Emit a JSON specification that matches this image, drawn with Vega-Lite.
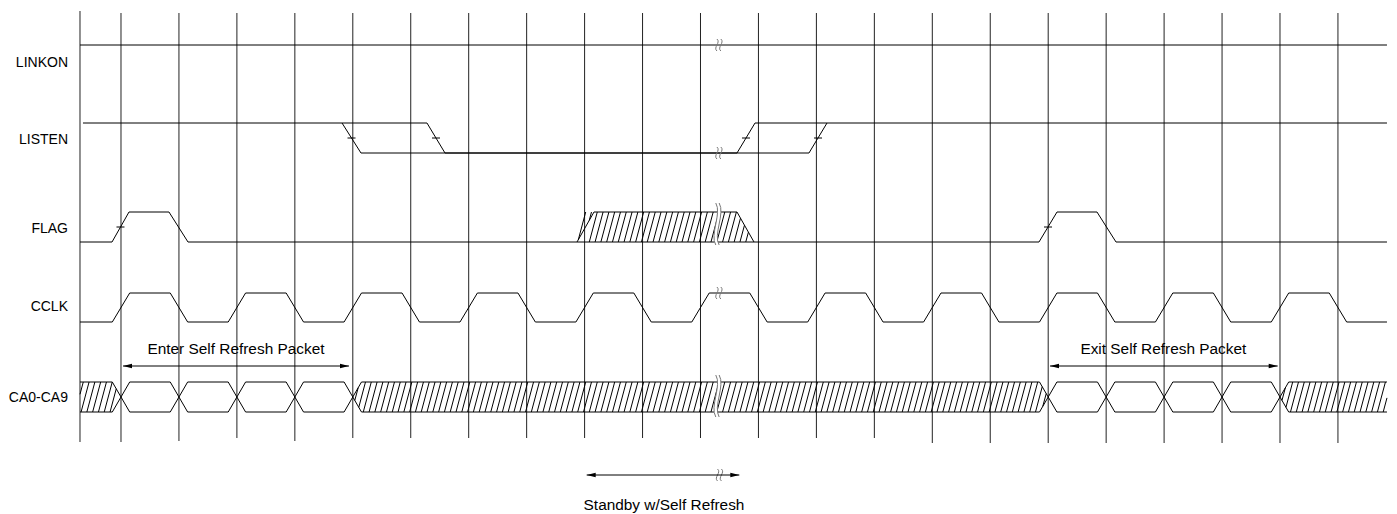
{
"$schema":"https://vega.github.io/schema/vega-lite/v6.json",
"width":1397,"height":514,"padding":0,
"autosize":{"type":"fit","contains":"padding"},
"background":"white",
"config":{"view":{"stroke":null}},
"datasets":{
"grid":[{"t":-0.7075,"y":11,"y2":442},{"t":0,"y":13,"y2":442},{"t":1,"y":13,"y2":441},{"t":2,"y":13,"y2":438},{"t":3,"y":13,"y2":441},{"t":4,"y":13,"y2":438},{"t":5,"y":13,"y2":438},{"t":6,"y":13,"y2":438},{"t":7,"y":13,"y2":438},{"t":8,"y":13,"y2":438},{"t":9,"y":13,"y2":438},{"t":10,"y":13,"y2":438},{"t":11,"y":13,"y2":438},{"t":12,"y":13,"y2":438},{"t":13,"y":13,"y2":438},{"t":14,"y":13,"y2":443},{"t":15,"y":13,"y2":443},{"t":16,"y":13,"y2":443},{"t":17,"y":13,"y2":443},{"t":18,"y":13,"y2":443},{"t":19,"y":13,"y2":443},{"t":20,"y":13,"y2":443},{"t":21,"y":13,"y2":443}],
"wave":[
{"s":"LINKON","t":-0.7075,"y":45},{"s":"LINKON","t":21.846,"y":45},
{"s":"LISTEN_A","t":-0.656,"y":123},{"s":"LISTEN_A","t":3.814,"y":123},{"s":"LISTEN_A","t":4.141,"y":153},{"s":"LISTEN_A","t":11.872,"y":153},{"s":"LISTEN_A","t":12.183,"y":123},{"s":"LISTEN_A","t":21.846,"y":123},
{"s":"LISTEN_B","t":3.814,"y":123},{"s":"LISTEN_B","t":5.28,"y":123},{"s":"LISTEN_B","t":5.591,"y":153},{"s":"LISTEN_B","t":10.63,"y":153},{"s":"LISTEN_B","t":10.941,"y":123},{"s":"LISTEN_B","t":12.183,"y":123},
{"s":"FLAG","t":-0.7075,"y":242},{"s":"FLAG","t":-0.155,"y":242},{"s":"FLAG","t":0.138,"y":212},{"s":"FLAG","t":0.828,"y":212},{"s":"FLAG","t":1.156,"y":242},{"s":"FLAG","t":15.841,"y":242},{"s":"FLAG","t":16.152,"y":212},{"s":"FLAG","t":16.842,"y":212},{"s":"FLAG","t":17.17,"y":242},{"s":"FLAG","t":21.846,"y":242},
{"s":"FLAG_H","t":7.869,"y":242},{"s":"FLAG_H","t":8.162,"y":212},{"s":"FLAG_H","t":10.63,"y":212},{"s":"FLAG_H","t":10.923,"y":242},
{"s":"CCLK","t":-0.7075,"y":322},{"s":"CCLK","t":-0.15,"y":322},{"s":"CCLK","t":0.15,"y":293},{"s":"CCLK","t":0.85,"y":293},{"s":"CCLK","t":1.15,"y":322},{"s":"CCLK","t":1.85,"y":322},{"s":"CCLK","t":2.15,"y":293},{"s":"CCLK","t":2.85,"y":293},{"s":"CCLK","t":3.15,"y":322},{"s":"CCLK","t":3.85,"y":322},{"s":"CCLK","t":4.15,"y":293},{"s":"CCLK","t":4.85,"y":293},{"s":"CCLK","t":5.15,"y":322},{"s":"CCLK","t":5.85,"y":322},{"s":"CCLK","t":6.15,"y":293},{"s":"CCLK","t":6.85,"y":293},{"s":"CCLK","t":7.15,"y":322},{"s":"CCLK","t":7.85,"y":322},{"s":"CCLK","t":8.15,"y":293},{"s":"CCLK","t":8.85,"y":293},{"s":"CCLK","t":9.15,"y":322},{"s":"CCLK","t":9.85,"y":322},{"s":"CCLK","t":10.15,"y":293},{"s":"CCLK","t":10.85,"y":293},{"s":"CCLK","t":11.15,"y":322},{"s":"CCLK","t":11.85,"y":322},{"s":"CCLK","t":12.15,"y":293},{"s":"CCLK","t":12.85,"y":293},{"s":"CCLK","t":13.15,"y":322},{"s":"CCLK","t":13.85,"y":322},{"s":"CCLK","t":14.15,"y":293},{"s":"CCLK","t":14.85,"y":293},{"s":"CCLK","t":15.15,"y":322},{"s":"CCLK","t":15.85,"y":322},{"s":"CCLK","t":16.15,"y":293},{"s":"CCLK","t":16.85,"y":293},{"s":"CCLK","t":17.15,"y":322},{"s":"CCLK","t":17.85,"y":322},{"s":"CCLK","t":18.15,"y":293},{"s":"CCLK","t":18.85,"y":293},{"s":"CCLK","t":19.15,"y":322},{"s":"CCLK","t":19.85,"y":322},{"s":"CCLK","t":20.15,"y":293},{"s":"CCLK","t":20.85,"y":293},{"s":"CCLK","t":21.15,"y":322},{"s":"CCLK","t":21.846,"y":322},
{"s":"CA_1","t":-0.7075,"y":382},{"s":"CA_1","t":-0.15,"y":382},{"s":"CA_1","t":0.15,"y":412},{"s":"CA_1","t":0.85,"y":412},{"s":"CA_1","t":1.15,"y":382},{"s":"CA_1","t":1.85,"y":382},{"s":"CA_1","t":2.15,"y":412},{"s":"CA_1","t":2.85,"y":412},{"s":"CA_1","t":3.15,"y":382},{"s":"CA_1","t":3.85,"y":382},{"s":"CA_1","t":4.15,"y":412},{"s":"CA_1","t":15.85,"y":412},{"s":"CA_1","t":16.15,"y":382},{"s":"CA_1","t":16.85,"y":382},{"s":"CA_1","t":17.15,"y":412},{"s":"CA_1","t":17.85,"y":412},{"s":"CA_1","t":18.15,"y":382},{"s":"CA_1","t":18.85,"y":382},{"s":"CA_1","t":19.15,"y":412},{"s":"CA_1","t":19.85,"y":412},{"s":"CA_1","t":20.15,"y":382},{"s":"CA_1","t":21.846,"y":382},
{"s":"CA_2","t":-0.7075,"y":412},{"s":"CA_2","t":-0.15,"y":412},{"s":"CA_2","t":0.15,"y":382},{"s":"CA_2","t":0.85,"y":382},{"s":"CA_2","t":1.15,"y":412},{"s":"CA_2","t":1.85,"y":412},{"s":"CA_2","t":2.15,"y":382},{"s":"CA_2","t":2.85,"y":382},{"s":"CA_2","t":3.15,"y":412},{"s":"CA_2","t":3.85,"y":412},{"s":"CA_2","t":4.15,"y":382},{"s":"CA_2","t":15.85,"y":382},{"s":"CA_2","t":16.15,"y":412},{"s":"CA_2","t":16.85,"y":412},{"s":"CA_2","t":17.15,"y":382},{"s":"CA_2","t":17.85,"y":382},{"s":"CA_2","t":18.15,"y":412},{"s":"CA_2","t":18.85,"y":412},{"s":"CA_2","t":19.15,"y":382},{"s":"CA_2","t":19.85,"y":382},{"s":"CA_2","t":20.15,"y":412},{"s":"CA_2","t":21.846,"y":412}
],
"hatch":[
{"t":-0.62,"y":397},{"t":-0.52,"y":397},{"t":-0.42,"y":397},{"t":-0.32,"y":397},{"t":-0.22,"y":397},
{"t":4.25,"y":397},{"t":4.35,"y":397},{"t":4.45,"y":397},{"t":4.55,"y":397},{"t":4.65,"y":397},{"t":4.75,"y":397},{"t":4.85,"y":397},{"t":4.95,"y":397},{"t":5.05,"y":397},{"t":5.15,"y":397},{"t":5.25,"y":397},{"t":5.35,"y":397},{"t":5.45,"y":397},{"t":5.55,"y":397},{"t":5.65,"y":397},{"t":5.75,"y":397},{"t":5.85,"y":397},{"t":5.95,"y":397},{"t":6.05,"y":397},{"t":6.15,"y":397},{"t":6.25,"y":397},{"t":6.35,"y":397},{"t":6.45,"y":397},{"t":6.55,"y":397},{"t":6.65,"y":397},{"t":6.75,"y":397},{"t":6.85,"y":397},{"t":6.95,"y":397},{"t":7.05,"y":397},{"t":7.15,"y":397},{"t":7.25,"y":397},{"t":7.35,"y":397},{"t":7.45,"y":397},{"t":7.55,"y":397},{"t":7.65,"y":397},{"t":7.75,"y":397},{"t":7.85,"y":397},{"t":7.95,"y":397},{"t":8.05,"y":397},{"t":8.15,"y":397},{"t":8.25,"y":397},{"t":8.35,"y":397},{"t":8.45,"y":397},{"t":8.55,"y":397},{"t":8.65,"y":397},{"t":8.75,"y":397},{"t":8.85,"y":397},{"t":8.95,"y":397},{"t":9.05,"y":397},{"t":9.15,"y":397},{"t":9.25,"y":397},{"t":9.35,"y":397},{"t":9.45,"y":397},{"t":9.55,"y":397},{"t":9.65,"y":397},{"t":9.75,"y":397},{"t":9.85,"y":397},{"t":9.95,"y":397},{"t":10.05,"y":397},{"t":10.15,"y":397},{"t":10.25,"y":397},{"t":10.35,"y":397},{"t":10.45,"y":397},{"t":10.55,"y":397},{"t":10.65,"y":397},{"t":10.75,"y":397},{"t":10.85,"y":397},{"t":10.95,"y":397},{"t":11.05,"y":397},{"t":11.15,"y":397},{"t":11.25,"y":397},{"t":11.35,"y":397},{"t":11.45,"y":397},{"t":11.55,"y":397},{"t":11.65,"y":397},{"t":11.75,"y":397},{"t":11.85,"y":397},{"t":11.95,"y":397},{"t":12.05,"y":397},{"t":12.15,"y":397},{"t":12.25,"y":397},{"t":12.35,"y":397},{"t":12.45,"y":397},{"t":12.55,"y":397},{"t":12.65,"y":397},{"t":12.75,"y":397},{"t":12.85,"y":397},{"t":12.95,"y":397},{"t":13.05,"y":397},{"t":13.15,"y":397},{"t":13.25,"y":397},{"t":13.35,"y":397},{"t":13.45,"y":397},{"t":13.55,"y":397},{"t":13.65,"y":397},{"t":13.75,"y":397},{"t":13.85,"y":397},{"t":13.95,"y":397},{"t":14.05,"y":397},{"t":14.15,"y":397},{"t":14.25,"y":397},{"t":14.35,"y":397},{"t":14.45,"y":397},{"t":14.55,"y":397},{"t":14.65,"y":397},{"t":14.75,"y":397},{"t":14.85,"y":397},{"t":14.95,"y":397},{"t":15.05,"y":397},{"t":15.15,"y":397},{"t":15.25,"y":397},{"t":15.35,"y":397},{"t":15.45,"y":397},{"t":15.55,"y":397},{"t":15.65,"y":397},{"t":15.75,"y":397},
{"t":20.25,"y":397},{"t":20.35,"y":397},{"t":20.45,"y":397},{"t":20.55,"y":397},{"t":20.65,"y":397},{"t":20.75,"y":397},{"t":20.85,"y":397},{"t":20.95,"y":397},{"t":21.05,"y":397},{"t":21.15,"y":397},{"t":21.25,"y":397},{"t":21.35,"y":397},{"t":21.45,"y":397},{"t":21.55,"y":397},{"t":21.65,"y":397},{"t":21.75,"y":397},
{"t":8.15,"y":227},{"t":8.25,"y":227},{"t":8.35,"y":227},{"t":8.45,"y":227},{"t":8.55,"y":227},{"t":8.65,"y":227},{"t":8.75,"y":227},{"t":8.85,"y":227},{"t":8.95,"y":227},{"t":9.05,"y":227},{"t":9.15,"y":227},{"t":9.25,"y":227},{"t":9.35,"y":227},{"t":9.45,"y":227},{"t":9.55,"y":227},{"t":9.65,"y":227},{"t":9.75,"y":227},{"t":9.85,"y":227},{"t":9.95,"y":227},{"t":10.05,"y":227},{"t":10.15,"y":227},{"t":10.25,"y":227},{"t":10.35,"y":227},{"t":10.45,"y":227},{"t":10.55,"y":227}
],
"hatchPart":[
{"t":7.892,"y":239.7,"t2":8.019,"y2":212},{"t":8.081,"y":220.3,"t2":8.119,"y2":212},{"t":10.581,"y":242,"t2":10.69,"y2":218.2},{"t":10.681,"y":242,"t2":10.759,"y2":225.2},{"t":10.781,"y":242,"t2":10.827,"y2":232.1},
{"t":-0.7075,"y":394.3,"t2":-0.651,"y2":382},{"t":-0.189,"y":412,"t2":-0.082,"y2":388.8},{"t":4.103,"y":407.3,"t2":4.219,"y2":382},{"t":4.034,"y":400.4,"t2":4.093,"y2":387.7},{"t":15.781,"y":412,"t2":15.897,"y2":386.7},{"t":15.907,"y":406.3,"t2":15.966,"y2":393.6},{"t":20.103,"y":407.3,"t2":20.219,"y2":382},{"t":20.034,"y":400.4,"t2":20.093,"y2":387.7},{"t":21.781,"y":412,"t2":21.846,"y2":397.9}
],
"breakTall":[{"t":10.3,"y":224},{"t":10.3,"y":396}],
"breakSmall":[{"t":10.32,"y":45},{"t":10.32,"y":153},{"t":10.32,"y":293},{"t":10.33,"y":475}],
"ticks":[{"t":3.978,"y":138},{"t":5.436,"y":138},{"t":10.785,"y":138},{"t":12.028,"y":138},{"t":-0.009,"y":227},{"t":15.997,"y":227}],
"arrows":[{"t":0.0345,"t2":3.934,"y":366},{"t":16.031,"t2":19.96,"y":366},{"t":8.036,"t2":10.67,"y":475}],
"heads":[{"t":0.0345,"y":366,"dir":"L"},{"t":3.934,"y":366,"dir":"R"},{"t":16.031,"y":366,"dir":"L"},{"t":19.96,"y":366,"dir":"R"},{"t":8.036,"y":475,"dir":"L"},{"t":10.67,"y":475,"dir":"R"}],
"labels":[{"label":"LINKON","t":-0.9146,"y":66.7},{"label":"LISTEN","t":-0.9146,"y":144},{"label":"FLAG","t":-0.9146,"y":233.3},{"label":"CCLK","t":-0.9146,"y":311},{"label":"CA0-CA9","t":-0.9146,"y":401.7}],
"notes":[{"label":"Enter Self Refresh Packet","t":1.984,"y":354.3},{"label":"Exit Self Refresh Packet","t":17.987,"y":354.3},{"label":"Standby w/Self Refresh","t":9.37,"y":510}]
},
"encoding":{
"x":{"field":"t","type":"quantitative","scale":{"domain":[-2.088,22.019],"nice":false,"zero":false},"axis":null},
"y":{"field":"y","type":"quantitative","scale":{"domain":[0,514],"reverse":true,"nice":false,"zero":false},"axis":null}
},
"layer":[
{"data":{"name":"grid"},"mark":{"type":"rule","color":"#222","strokeWidth":1},"encoding":{"y2":{"field":"y2"}}},
{"data":{"name":"wave"},"mark":{"type":"line","color":"black","strokeWidth":1},"encoding":{"detail":{"field":"s","type":"nominal"}}},
{"data":{"name":"hatch"},"mark":{"type":"point","shape":"M-0.267,1L0.267,-1","size":900,"filled":false,"color":"black","opacity":1,"strokeWidth":1}},
{"data":{"name":"hatchPart"},"mark":{"type":"rule","color":"black","strokeWidth":1},"encoding":{"x2":{"field":"t2"},"y2":{"field":"y2"}}},
{"data":{"name":"breakTall"},"mark":{"type":"point","shape":"M-0.1,-1C0.2,-0.5,-0.4,0.5,-0.1,1L0.06,1C-0.24,0.5,0.36,-0.5,0.06,-1Z","size":1764,"filled":true,"color":"white","opacity":1,"strokeWidth":0}},
{"data":{"name":"breakTall"},"mark":{"type":"point","shape":"M-0.1,-1C0.2,-0.5,-0.4,0.5,-0.1,1M0.06,-1C0.36,-0.5,-0.24,0.5,0.06,1","size":1764,"filled":false,"color":"#777","opacity":1,"strokeWidth":1}},
{"data":{"name":"breakSmall"},"mark":{"type":"point","shape":"M-0.35,-1C0.35,-0.4,-1.05,0.4,-0.35,1M0.3,-1C1,-0.4,-0.4,0.4,0.3,1","size":144,"filled":false,"color":"#777","opacity":1,"strokeWidth":1}},
{"data":{"name":"ticks"},"mark":{"type":"point","shape":"M-1,0L1,0","size":64,"filled":false,"color":"black","opacity":1,"strokeWidth":1}},
{"data":{"name":"arrows"},"mark":{"type":"rule","color":"black","strokeWidth":1},"encoding":{"x2":{"field":"t2"}}},
{"data":{"name":"heads"},"mark":{"type":"point","size":81,"filled":true,"color":"black","opacity":1,"strokeWidth":0},"encoding":{"shape":{"field":"dir","type":"nominal","scale":{"domain":["L","R"],"range":["M0,0L2,-0.5L2,0.5Z","M0,0L-2,-0.5L-2,0.5Z"]},"legend":null}}},
{"data":{"name":"labels"},"mark":{"type":"text","align":"right","baseline":"alphabetic","font":"Liberation Sans","fontSize":14,"color":"black"},"encoding":{"text":{"field":"label"}}},
{"data":{"name":"notes"},"mark":{"type":"text","align":"center","baseline":"alphabetic","font":"Liberation Sans","fontSize":15.4,"color":"black"},"encoding":{"text":{"field":"label"}}}
]
}
